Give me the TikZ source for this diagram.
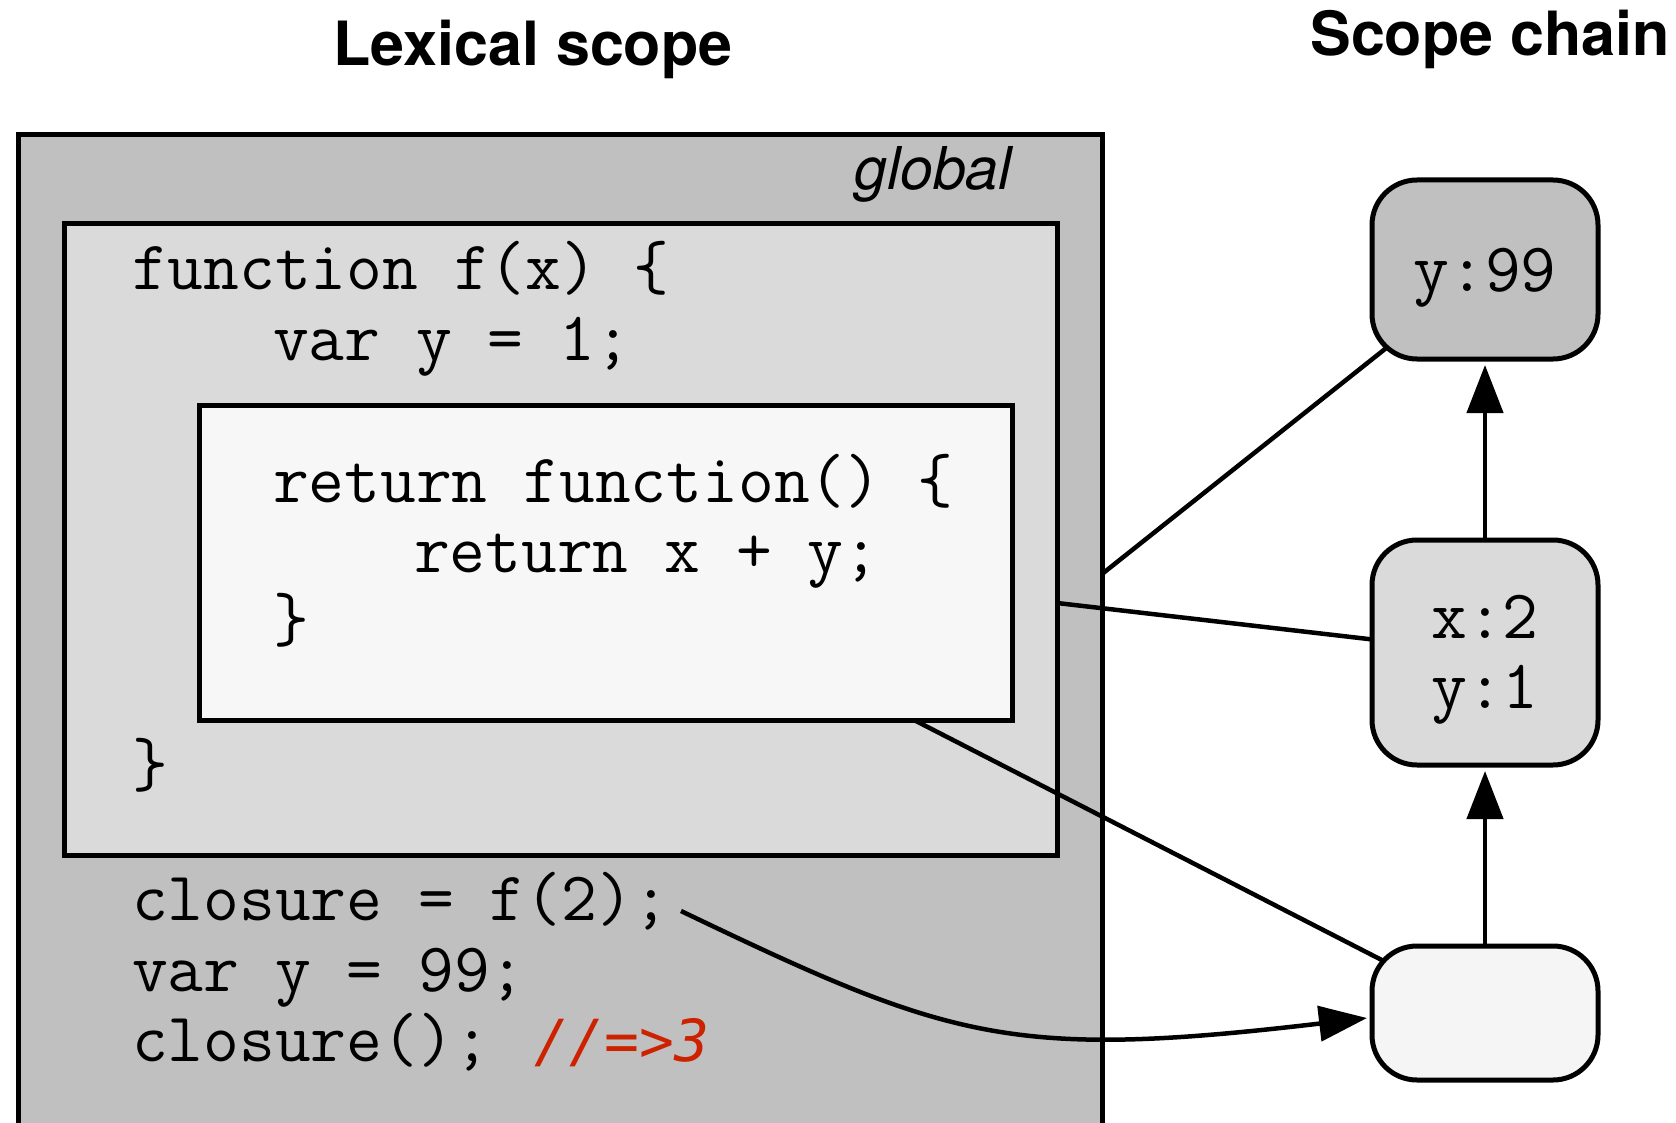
\documentclass[tikz,border=0pt]{standalone}
\usepackage{fontspec}
\setmainfont{TeX Gyre Heros}
\newfontfamily\cmtfont{DejaVu Sans Mono}
\usetikzlibrary{arrows.meta,calc}

\definecolor{globalgray}{RGB}{192,192,192}
\definecolor{fngray}{RGB}{218,218,218}
\definecolor{innergray}{RGB}{247,247,247}
\definecolor{envgray}{RGB}{245,245,245}
\definecolor{cmtred}{RGB}{204,34,0}

\pgfdeclarelayer{back}
\pgfdeclarelayer{mid}
\pgfsetlayers{back,mid,main}

\begin{document}
\begin{tikzpicture}[x=1pt,y=-1pt,
  scopebox/.style={draw=black, line width=5pt, rectangle, inner sep=0pt,
    outer sep=0pt, anchor=north west},
  chainbox/.style={draw=black, line width=5pt, rectangle, rounded corners=45pt,
    minimum width=226pt, inner sep=0pt, outer sep=0pt},
  code/.style={font=\ttfamily\fontsize{69.5}{70}\selectfont, inner sep=0pt,
    outer sep=0pt, anchor=base west},
  chaintext/.style={code, anchor=base},
  title/.style={font=\bfseries\fontsize{61}{70}\selectfont, inner sep=0pt, anchor=base},
  link/.style={line width=4.5pt},
  chainarrow/.style={line width=4.5pt, -{Triangle[length=48pt,width=36pt]}},
]
\useasboundingbox (0,0) rectangle (1676,1123);

% nested lexical scopes
\begin{pgfonlayer}{back}
  \begin{scope}
    \clip (0,0) rectangle (1676,1123);
    \fill[white] (0,0) rectangle (1676,1123);
    \node[scopebox, fill=globalgray, minimum width=1084pt, minimum height=1040pt] (global) at (18,135) {};
    \node[scopebox, fill=fngray, minimum width=993pt, minimum height=631pt] (fnbox) at (64,224) {};
    \node[scopebox, fill=innergray, minimum width=813pt, minimum height=315pt] (inner) at (199,405) {};
  \end{scope}
\end{pgfonlayer}

% headings
\node[title] (lextitle) at (533,66) {Lexical scope};
\node[title] (chaintitle) at (1490,56) {Scope chain};
\node[font=\itshape\fontsize{59}{70}\selectfont, anchor=base east, inner sep=0pt] (globallabel) at (1012,190) {global};

% source code
\node[code] (l1) at (132,290) {function f(x) \{};
\node[code] (l2) at (273,360) {var y = 1;};
\node[code] (l3) at (273,502) {return function() \{};
\node[code] (l4) at (414,572) {return x + y;};
\node[code] (l5) at (273,641) {\}};
\node[code] (l6) at (132,786) {\}};
\node[code] (l7) at (132,920) {closure = f(2);};
\node[code] (l8) at (132,991) {var y = 99;};
\node[code] (l9) at (132,1061) {closure(); \kern9pt{\cmtfont\itshape\fontsize{58}{70}\selectfont\color{cmtred}//=>3}};

% scope chain environments
\node[chainbox, fill=globalgray, minimum height=179pt] (ybox) at (1485,269.5) {};
\node[chainbox, fill=fngray, minimum height=225pt] (xybox) at (1485,652.5) {};
\node[chainbox, fill=envgray, minimum height=134pt] (envbox) at (1485,1013) {};
\node[chaintext] (ytext) at (1485,292) {y:99};
\node[chaintext] (xtext) at (1485,638) {x:2};
\node[chaintext] (y1text) at (1485,708) {y:1};

% attachment points on the scope borders
\coordinate (gAttach) at (1102,574);
\coordinate (fAttach) at (1057,603);
\coordinate (iAttach) at (914,720);
\coordinate (callpt) at (681,911);

% scope to environment links, kept below the environment boxes
\begin{pgfonlayer}{mid}
  \draw[link] (gAttach) -- (ybox.center);
  \draw[link] (fAttach) -- (xybox.center);
  \draw[link] (iAttach) -- (envbox.center);
\end{pgfonlayer}

% parent pointers
\draw[chainarrow, shorten >=6pt] (envbox.north) -- (xybox.south);
\draw[chainarrow, shorten >=6pt] (xybox.north) -- (ybox.south);

% the closure value points at its environment
\draw[link, -{Triangle[length=48pt,width=35pt]}] (callpt)
  .. controls (950,1040) and (1010,1060) .. ([xshift=-5pt,yshift=-5pt]envbox.west);
\end{tikzpicture}
\end{document}
